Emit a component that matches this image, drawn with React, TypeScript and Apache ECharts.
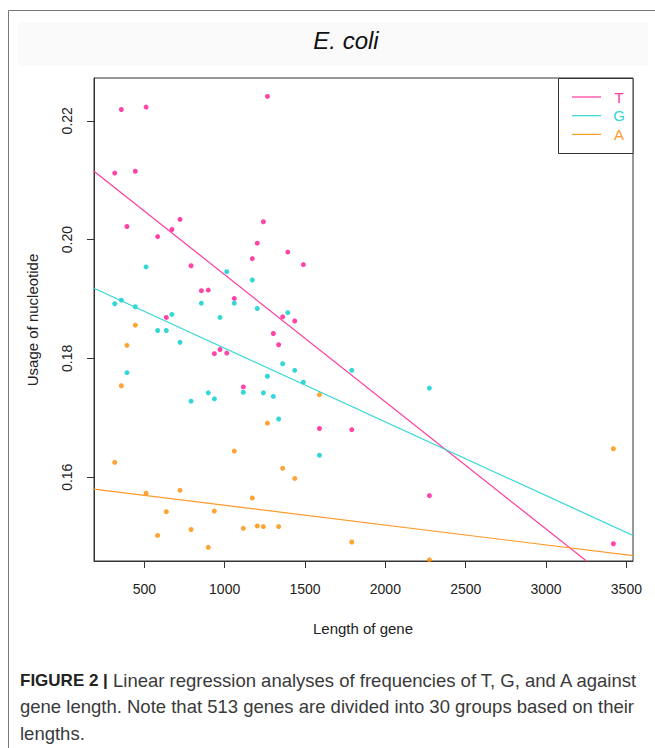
import React, { useEffect, useRef } from "react";
import * as echarts from "echarts";

// Gene length (group mean), x axis
const geneLength = [316, 357, 392, 444, 511, 583, 637, 672, 722, 791, 855, 898, 936, 971, 1013, 1060, 1116, 1172, 1203, 1241, 1266, 1303, 1336, 1361, 1393, 1436, 1490, 1590, 1791, 2274, 3419];
// Usage of nucleotide T, G, A (null = outside the plotted range)
const tUsage = [0.2112, 0.2219, 0.2022, 0.2115, 0.2223, 0.2005, 0.1869, 0.2017, 0.2034, 0.1956, 0.1914, 0.1915, 0.1808, 0.1815, 0.1809, 0.1901, 0.1752, 0.1968, 0.1994, 0.2030, 0.2241, 0.1842, 0.1823, 0.1870, 0.1979, 0.1863, 0.1958, 0.1682, 0.1680, 0.1569, 0.1488];
const gUsage = [0.1892, 0.1898, 0.1776, 0.1887, 0.1954, 0.1847, 0.1847, 0.1874, 0.1827, 0.1728, 0.1893, 0.1742, 0.1732, 0.1869, 0.1946, 0.1893, 0.1743, 0.1932, 0.1884, 0.1742, 0.1770, 0.1736, 0.1698, 0.1791, 0.1877, 0.1780, 0.1760, 0.1637, 0.1780, 0.1750, null];
const aUsage = [0.1625, 0.1754, 0.1822, 0.1856, 0.1573, 0.1502, 0.1542, null, 0.1578, 0.1512, null, 0.1482, 0.1543, null, null, 0.1644, 0.1514, 0.1565, 0.1518, 0.1517, 0.1691, null, 0.1517, 0.1615, null, 0.1598, null, 0.1739, 0.1491, 0.1461, 0.1648];

// Linear regression fits (intercept, slope) for T, G, A
const seriesNames = ["T", "G", "A"];
const fitIntercept = [0.2155, 0.19412, 0.15862];
const fitSlope = [-2.1407e-5, -1.2403e-5, -3.339e-6];

// Axis ranges and ticks
const xRange = [187, 3541];
const yRange = [0.1459, 0.2272];
const xTicks = [500, 1000, 1500, 2000, 2500, 3000, 3500];
const yTicks = [0.16, 0.18, 0.2, 0.22];

const captionLines = [
  "{b|FIGURE 2 |} Linear regression analyses of frequencies of T, G, and A against",
  "gene length. Note that 513 genes are divided into 30 groups based on their",
  "lengths.",
];

const pointColors = ["#ff1493", "#00cdcd", "#ff8c00"];
const lineColors = ["#ff3a9c", "#33d6d6", "#ff9a2a"];

export default function App() {
  const ref = useRef<HTMLDivElement>(null);

  useEffect(() => {
    if (!ref.current) return;
    const chart = echarts.init(ref.current, undefined, { renderer: "svg" });
    const values = [tUsage, gUsage, aUsage];

    const scatterSeries = values.map((arr, k) => ({
      type: "scatter",
      name: seriesNames[k] + " points",
      data: geneLength
        .map((x, i) => (arr[i] == null ? null : [x, arr[i]]))
        .filter((d) => d !== null),
      symbol: "circle",
      symbolSize: 5,
      itemStyle: { color: pointColors[k] },
      clip: true,
      z: 3,
    }));

    const lineSeries = seriesNames.map((n, k) => ({
      type: "line",
      name: n,
      data: xRange.map((x) => [x, fitIntercept[k] + fitSlope[k] * x]),
      symbol: "none",
      lineStyle: { color: lineColors[k], width: 1.2 },
      clip: true,
      z: 4,
    }));

    const font = "'Liberation Sans', Arial, Helvetica, sans-serif";

    chart.setOption({
      animation: false,
      backgroundColor: "#ffffff",
      grid: {
        left: 94,
        top: 78,
        width: 539,
        height: 483,
        show: true,
        borderColor: "#333",
        borderWidth: 1,
        backgroundColor: "transparent",
      },
      xAxis: {
        type: "value",
        min: xRange[0],
        max: xRange[1],
        splitLine: { show: false },
        axisLine: { show: true, lineStyle: { color: "#333" } },
        axisTick: { show: true, length: 7, customValues: xTicks, lineStyle: { color: "#333" } },
        axisLabel: {
          customValues: xTicks,
          margin: 21,
          fontSize: 14,
          color: "#222",
          fontFamily: font,
          formatter: (v: number) => String(Math.round(v)),
        },
      },
      yAxis: {
        type: "value",
        min: yRange[0],
        max: yRange[1],
        splitLine: { show: false },
        axisLine: { show: true, lineStyle: { color: "#333" } },
        axisTick: { show: true, length: 7, customValues: yTicks, lineStyle: { color: "#333" } },
        axisLabel: {
          customValues: yTicks,
          rotate: 90,
          margin: 20,
          fontSize: 14,
          color: "#222",
          fontFamily: font,
          formatter: (v: number) => v.toFixed(2),
        },
      },
      series: [...scatterSeries, ...lineSeries],
      graphic: [
        // outer figure frame
        { type: "line", shape: { x1: 8.5, y1: 10.5, x2: 655, y2: 10.5 }, style: { stroke: "#777", lineWidth: 1 }, silent: true },
        { type: "line", shape: { x1: 8.5, y1: 10.5, x2: 8.5, y2: 748 }, style: { stroke: "#777", lineWidth: 1 }, silent: true },
        // faint title band
        { type: "rect", shape: { x: 18, y: 22, width: 630, height: 44 }, style: { fill: "#fafafa" }, silent: true, z: -1 },
        {
          type: "text",
          x: 346,
          y: 40,
          style: {
            text: "E. coli",
            fontSize: 24,
            fontStyle: "italic",
            fontFamily: font,
            fill: "#111",
            align: "center",
            verticalAlign: "middle",
          },
        },
        // axis titles
        {
          type: "text",
          x: 363,
          y: 628,
          style: {
            text: "Length of gene",
            fontSize: 15,
            fontFamily: font,
            fill: "#222",
            align: "center",
            verticalAlign: "middle",
          },
        },
        {
          type: "text",
          x: 32,
          y: 320,
          rotation: Math.PI / 2,
          style: {
            text: "Usage of nucleotide",
            fontSize: 15,
            fontFamily: font,
            fill: "#222",
            align: "center",
            verticalAlign: "middle",
          },
        },
        // legend
        {
          type: "rect",
          shape: { x: 558.5, y: 78.5, width: 74.5, height: 75 },
          style: { fill: "#fff", stroke: "#333", lineWidth: 1 },
          z: 10,
        },
        ...seriesNames.flatMap((n, k) => [
          {
            type: "line",
            shape: { x1: 572, y1: 97 + k * 18.7, x2: 601, y2: 97 + k * 18.7 },
            style: { stroke: lineColors[k], lineWidth: 1.2 },
            z: 11,
          },
          {
            type: "text",
            x: 619,
            y: 97 + k * 18.7,
            style: {
              text: n,
              fontSize: 15,
              fontFamily: font,
              fill: lineColors[k],
              align: "center",
              verticalAlign: "middle",
            },
            z: 11,
          },
        ]),
        // caption
        ...captionLines.map((t, i) => ({
          type: "text",
          x: 20,
          y: 680 + i * 26.5,
          style: {
            text: t,
            fontSize: 18.5,
            fontFamily: font,
            fill: "#3a3a3a",
            align: "left",
            verticalAlign: "middle",
            rich: {
              b: { fontSize: 17, fontWeight: "bold", fontFamily: font, fill: "#222" },
            },
          },
        })),
      ],
    });

    return () => chart.dispose();
  }, []);

  return (
    <div
      ref={ref}
      style={{ position: "fixed", left: 0, top: 0, width: 655, height: 748 }}
    />
  );
}
